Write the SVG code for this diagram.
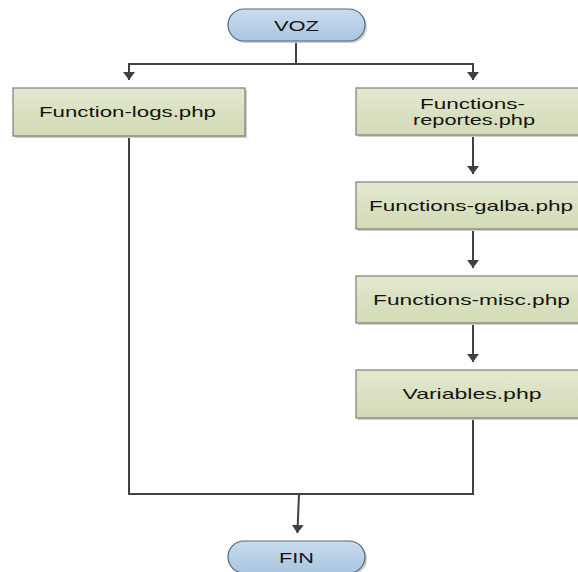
<svg xmlns="http://www.w3.org/2000/svg" width="578" height="572" viewBox="0 0 578 572">
<defs>
<linearGradient id="gBox" x1="0" y1="0" x2="0" y2="1">
<stop offset="0" stop-color="#e3e9cf"/>
<stop offset="1" stop-color="#d2dab5"/>
</linearGradient>
<linearGradient id="gPill" x1="0" y1="0" x2="0" y2="1">
<stop offset="0" stop-color="#cadcee"/>
<stop offset="1" stop-color="#a9c5e0"/>
</linearGradient>
<marker id="arr" markerUnits="userSpaceOnUse" markerWidth="8" markerHeight="12" viewBox="0 0 8 12" refX="8" refY="6" orient="auto">
<path d="M0,0 L8,6 L0,12 z" fill="#404040"/>
</marker>
<style>
.box{fill:url(#gBox);stroke:#7d7d7d;stroke-width:1.2}
.pill{fill:url(#gPill);stroke:#55677a;stroke-width:1.2}
.shadow{fill:#cfcfcf}
.lbl{font-family:"Liberation Sans",Arial,sans-serif;font-size:15px;fill:#141414;text-anchor:middle}
.conn{fill:none;stroke:#424242;stroke-width:2}
</style>
</defs>
<rect width="578" height="572" fill="#ffffff"/>
<g id="connectors">
<path class="conn" d="M296 41 V64 H129 V80" marker-end="url(#arr)"/>
<path class="conn" d="M296 64 H473 V80" marker-end="url(#arr)"/>
<path class="conn" d="M473 135 V174" marker-end="url(#arr)"/>
<path class="conn" d="M473 229 V268" marker-end="url(#arr)"/>
<path class="conn" d="M473 323 V362" marker-end="url(#arr)"/>
<path class="conn" d="M129 136 V494 H473 V418"/>
<path class="conn" d="M299 494 L297.4 533" marker-end="url(#arr)"/>
</g>
<g id="voz">
<rect class="shadow" x="230" y="11" width="137" height="32" rx="16"/>
<rect class="pill" x="228" y="9" width="137" height="32" rx="16"/>
<text class="lbl" x="296.5" y="30.5" textLength="45" lengthAdjust="spacingAndGlyphs">VOZ</text>
</g>
<g id="function-logs">
<rect class="shadow" x="15" y="90" width="232" height="48"/>
<rect class="box" x="13" y="88" width="232" height="48"/>
<text class="lbl" x="127.5" y="117" textLength="177" lengthAdjust="spacingAndGlyphs">Function-logs.php</text>
</g>
<g id="functions-reportes">
<rect class="shadow" x="358" y="90" width="234" height="47"/>
<rect class="box" x="356" y="88" width="234" height="47"/>
<text class="lbl" x="472.5" y="109" textLength="105" lengthAdjust="spacingAndGlyphs">Functions-</text>
<text class="lbl" x="474" y="125" textLength="122" lengthAdjust="spacingAndGlyphs">reportes.php</text>
</g>
<g id="functions-galba">
<rect class="shadow" x="358" y="184" width="234" height="47"/>
<rect class="box" x="356" y="182" width="234" height="47"/>
<text class="lbl" x="471" y="210.5" textLength="204" lengthAdjust="spacingAndGlyphs">Functions-galba.php</text>
</g>
<g id="functions-misc">
<rect class="shadow" x="358" y="278" width="234" height="47"/>
<rect class="box" x="356" y="276" width="234" height="47"/>
<text class="lbl" x="471.5" y="304.5" textLength="197" lengthAdjust="spacingAndGlyphs">Functions-misc.php</text>
</g>
<g id="variables">
<rect class="shadow" x="358" y="372" width="234" height="48"/>
<rect class="box" x="356" y="370" width="234" height="48"/>
<text class="lbl" x="472" y="399" textLength="139" lengthAdjust="spacingAndGlyphs">Variables.php</text>
</g>
<g id="fin">
<rect class="shadow" x="230" y="543" width="137" height="32" rx="16"/>
<rect class="pill" x="228" y="541" width="137" height="32" rx="16"/>
<text class="lbl" x="296.5" y="562.5" textLength="35" lengthAdjust="spacingAndGlyphs">FIN</text>
</g>
</svg>
